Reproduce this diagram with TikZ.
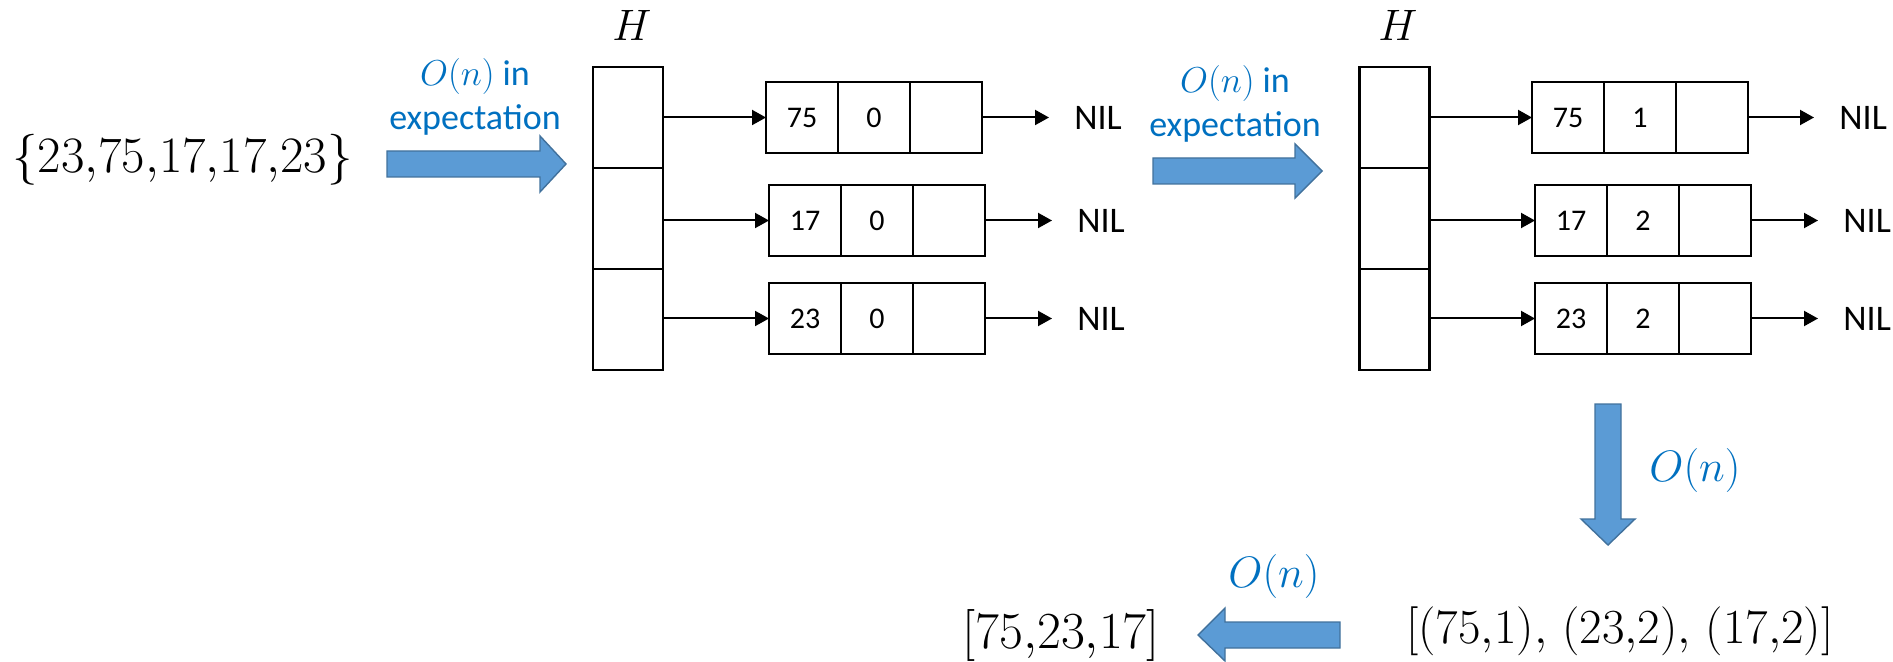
\RequirePackage{fix-cm}
\documentclass[tikz,border=0pt]{standalone}
\usepackage{fontspec}
\setsansfont{Carlito}
\usetikzlibrary{arrows.meta}

\definecolor{arrowfill}{HTML}{5B9BD5}
\definecolor{arrowline}{HTML}{41719C}
\definecolor{costblue}{HTML}{0070C0}

\begin{document}
\begin{tikzpicture}[
  x=0.5pt, y=-0.5pt,
  cell/.style={draw, line width=1.4pt, minimum width=36pt, minimum height=35.5pt,
    inner sep=0pt, outer sep=0pt, font=\sffamily\fontsize{15}{18}\selectfont},
  slot/.style={draw, line width=1.4pt, minimum width=35pt, minimum height=50.5pt,
    inner sep=0pt, outer sep=0pt},
  ptr/.style={-{Triangle[length=7pt,width=7.5pt]}, line width=1pt},
  nil/.style={font=\sffamily\fontsize{18}{21}\selectfont, inner xsep=12.5pt,
    inner ysep=0pt, anchor=west},
  tablename/.style={font=\fontsize{22}{26}\selectfont, inner sep=0pt, anchor=base},
  listtext/.style={font=\fontsize{24}{28}\selectfont, inner sep=0pt, anchor=base west},
  cost/.style={text=costblue, font=\sffamily\fontsize{18}{22}\selectfont,
    align=center, inner sep=0pt},
  bigcost/.style={text=costblue, font=\fontsize{22}{26}\selectfont,
    inner sep=0pt, anchor=base west},
  blockarrow/.style={fill=arrowfill, draw=arrowline, line width=0.7pt, line join=miter}
]
\useasboundingbox (0,0) rectangle (1893,662);

% input multiset
\node[listtext, font=\fontsize{25.5}{30}\selectfont] (input) at (12,173)
  {$\{23{,}75{,}17{,}17{,}23\}$};

% first hashing step
\node[cost, anchor=south] (cost1) at (475,136) {$O(n)$ in\\expectation};
\draw[blockarrow] (387,151) -- (540,151) -- (540,136) -- (566,164) -- (540,192)
  -- (540,177) -- (387,177) -- cycle;

% hash table H before counting
\node[tablename] (H1) at (632,41) {$H$};
\node[slot] (s11) at (628,117.5) {};
\node[slot] (s12) at (628,218.5) {};
\node[slot] (s13) at (628,319.5) {};

\node[cell] (a11) at (802,117.5) {75};
\node[cell, anchor=west] (a12) at (a11.east) {0};
\node[cell, anchor=west] (a13) at (a12.east) {};
\node[cell] (a21) at (805,220.5) {17};
\node[cell, anchor=west] (a22) at (a21.east) {0};
\node[cell, anchor=west] (a23) at (a22.east) {};
\node[cell] (a31) at (805,318.5) {23};
\node[cell, anchor=west] (a32) at (a31.east) {0};
\node[cell, anchor=west] (a33) at (a32.east) {};

\node[nil] (n1) at (1049,117.5) {NIL};
\node[nil] (n2) at (1052,220.5) {NIL};
\node[nil] (n3) at (1052,318.5) {NIL};

\draw[ptr] (a11.west -| s11.east) -- (a11.west);
\draw[ptr] (a21.west -| s12.east) -- (a21.west);
\draw[ptr] (a31.west -| s13.east) -- (a31.west);
\draw[ptr] (a13.east) -- (n1.west);
\draw[ptr] (a23.east) -- (n2.west);
\draw[ptr] (a33.east) -- (n3.west);

% counting step
\node[cost, anchor=south] (cost2) at (1235,143) {$O(n)$ in\\expectation};
\draw[blockarrow] (1153,158) -- (1295,158) -- (1295,144) -- (1322,171) -- (1295,198)
  -- (1295,184) -- (1153,184) -- cycle;

% hash table H with counts
\node[tablename] (H2) at (1398,41) {$H$};
\node[slot] (t11) at (1394.5,117.5) {};
\node[slot] (t12) at (1394.5,218.5) {};
\node[slot] (t13) at (1394.5,319.5) {};

\node[cell] (b11) at (1568,117.5) {75};
\node[cell, anchor=west] (b12) at (b11.east) {1};
\node[cell, anchor=west] (b13) at (b12.east) {};
\node[cell] (b21) at (1571,220.5) {17};
\node[cell, anchor=west] (b22) at (b21.east) {2};
\node[cell, anchor=west] (b23) at (b22.east) {};
\node[cell] (b31) at (1571,318.5) {23};
\node[cell, anchor=west] (b32) at (b31.east) {2};
\node[cell, anchor=west] (b33) at (b32.east) {};

\node[nil] (m1) at (1814,117.5) {NIL};
\node[nil] (m2) at (1818,220.5) {NIL};
\node[nil] (m3) at (1818,318.5) {NIL};

\draw[ptr] (b11.west -| t11.east) -- (b11.west);
\draw[ptr] (b21.west -| t12.east) -- (b21.west);
\draw[ptr] (b31.west -| t13.east) -- (b31.west);
\draw[ptr] (b13.east) -- (m1.west);
\draw[ptr] (b23.east) -- (m2.west);
\draw[ptr] (b33.east) -- (m3.west);

% collecting the pairs
\draw[blockarrow] (1595,404) -- (1621,404) -- (1621,519) -- (1635,519) -- (1608,545)
  -- (1581,519) -- (1595,519) -- cycle;
\node[bigcost] (cost3) at (1649,481) {$O(n)$};
\node[listtext, font=\fontsize{24.5}{29}\selectfont] (pairs) at (1406,643)
  {$[(75{,}1){,}\ (23{,}2){,}\ (17{,}2)]$};

% output
\draw[blockarrow] (1340,622) -- (1225,622) -- (1225,608) -- (1198,635) -- (1225,661)
  -- (1225,648) -- (1340,648) -- cycle;
\node[bigcost] (cost4) at (1228,587) {$O(n)$};
\node[listtext, font=\fontsize{26}{30}\selectfont] (output) at (962,648) {$[75{,}23{,}17]$};
\end{tikzpicture}
\end{document}
